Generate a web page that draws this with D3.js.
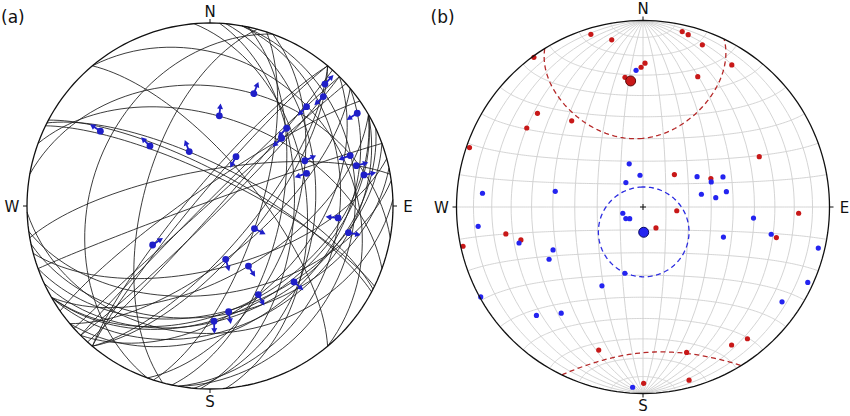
<!DOCTYPE html>
<html>
<head>
<meta charset="utf-8">
<script src="https://cdn.jsdelivr.net/npm/d3@7"></script>
<style>
  body { margin: 0; background: #fff; }
  svg { display: block; }
  text { font-family: "DejaVu Sans", sans-serif; fill: #111; }
</style>
</head>
<body>
<div id="chart"></div>
<script>
// ---- (a) fault planes: strike (right-hand rule) / dip ----
const planeStrikes = [40, 45, 225, 42, 228, 50, 280, 290, 296, 298, 297, 220, 20, 355, 10, 260, 60, 10, 60, 40,
                      220, 50, 60, 70, 45, 60, 65, 320, 320, 75, 82, 78, 88, 200, 195, 5, 12, 3, 18, 235, 250];
const planeDips    = [71, 86, 88, 87, 89, 35, 35, 50, 77, 75, 72, 84, 52, 46, 22, 74, 41, 30, 34, 68,
                      81, 67, 58, 42, 45, 43, 39, 25, 70, 62, 50, 40, 31, 35, 60, 42, 58, 52, 68, 82, 88];

// ---- (a) striae: trend / plunge, sense of arrow (1 = outward, -1 = inward) ----
const striaTrends  = [43.3, 46.0, 44.2, 44.6, 46.6, 57.8, 21.3, 5.9, 304.3, 315, 339.1, 27.8, 64.5, 71.3,
                      70.2, 74.6, 78.6, 95.3, 100.9, 116.9, 235.8, 163.6, 147.4, 132.1, 151.4, 170.0, 178.0];
const striaPlunges = [9.3, 15.0, 25.3, 40.1, 45.2, 5.5, 34.4, 49.0, 28.3, 51.7, 64.0, 65.1, 42.1, 43.6,
                      19.7, 18.2, 15.3, 30.4, 24.0, 67.8, 58.9, 65.2, 58.0, 38.1, 44.1, 41.0, 37.1];
const striaSense   = [1, -1, -1, -1, -1, -1, 1, 1, 1, 1, 1, -1, 1, -1, -1, 1, 1, -1, 1, 1, -1, 1, 1, 1, 1, 1, 1];

// ---- (b) red set: trend / plunge ----
const redTrends  = [343.2, 349.4, 12.6, 14.7, 20.1, 323.9, 32.0, 0.8, 359.2, 352.1, 22.8, 311.6, 304.2, 320.4,
                    288.9, 66.6, 44.1, 67.3, 96.3, 92.3, 258.9, 254.9, 257.7, 148.2, 102.9, 197.2, 163.3,
                    147.3, 141.6, 165.1, 179.8];
const redPlunges = [3.7, 9.7, 4.1, 5.0, 8.2, 0.8, 11.1, 23.9, 26.0, 30.5, 25.2, 25.3, 25.6, 39.8,
                    1.9, 32.6, 70.3, 57.6, 75.2, 17.6, 26.0, 32.7, 1.4, 79.3, 27.5, 20.8, 19.7,
                    13.1, 10.8, 4.4, 6.1];
// ---- (b) blue set: trend / plunge ----
const blueTrends  = [357.1, 342.3, 354.6, 325.0, 60.7, 69.4, 69.8, 274.9, 280.1, 77.7, 82.7, 79.6, 252.8,
                     228.7, 236, 263.3, 253.8, 244.5, 240.9, 195.3, 207.5, 241.0, 224.5, 217.6, 95.7,
                     110.5, 102.0, 103.2, 114.6, 124.3, 183.3];
const bluePlunges = [27.5, 70.2, 76.1, 77.0, 62.8, 52.2, 58.0, 14.7, 50.5, 63.8, 57.7, 52.5, 80.8,
                     82.3, 81, 12.0, 31.4, 45.6, 41.9, 59.8, 50.6, 0.6, 19.6, 28.9, 40.2,
                     52.0, 30.4, 3.9, 3.2, 10.7, 3.6];
// mean directions [trend, plunge]
const redMean  = [354.4, 32.6];
const blueMean = [178.4, 79.0];
// confidence cones [trend, plunge, semi-axis in dip plane, semi-axis across]
const redCone  = [357, 18.4, 41.5, 32];
const blueCone = [178.4, 79.0, 19.7, 19.7];

const W = 850, H = 416;
const rad = Math.PI / 180;
const svg = d3.select('#chart').append('svg').attr('width', W).attr('height', H);

// direction (east, north, down) -> lon/lat on an equal-area net centred on the vertical
function toLonLat(e, n, d) {
  return [Math.atan2(e, d) / rad, Math.asin(Math.max(-1, Math.min(1, n))) / rad];
}
function lineLL(trend, plunge) {
  const t = trend * rad, p = plunge * rad;
  return toLonLat(Math.cos(p) * Math.sin(t), Math.cos(p) * Math.cos(t), Math.sin(p));
}
function planeLL(strike, dip) {
  const s = strike * rad, dp = dip * rad;
  return d3.range(0, 180.01, 3).map(r => {
    r *= rad;
    const e = Math.cos(r) * Math.sin(s) + Math.sin(r) * Math.cos(dp) * Math.cos(s);
    const n = Math.cos(r) * Math.cos(s) - Math.sin(r) * Math.cos(dp) * Math.sin(s);
    return toLonLat(e, n, Math.sin(r) * Math.sin(dp));
  });
}
// cone outline and its antipode (the part above the horizontal shows on the other side)
function coneLL(cone) {
  const [tr, pl, a1, a2] = cone;
  const t = tr * rad, p = pl * rad;
  const C = [Math.cos(p) * Math.sin(t), Math.cos(p) * Math.cos(t), Math.sin(p)];
  const M = [-Math.sin(p) * Math.sin(t), -Math.sin(p) * Math.cos(t), Math.cos(p)];
  const N = [Math.cos(t), -Math.sin(t), 0];
  const pts = d3.range(0, 360.01, 2).map(th => {
    th *= rad;
    const rho = a1 * a2 / Math.hypot(a2 * Math.cos(th), a1 * Math.sin(th)) * rad;
    return [0, 1, 2].map(i => Math.cos(rho) * C[i] + Math.sin(rho) * (Math.cos(th) * M[i] + Math.sin(th) * N[i]));
  });
  return [pts.map(v => toLonLat(v[0], v[1], v[2])), pts.map(v => toLonLat(-v[0], -v[1], -v[2]))];
}

function makeNet(cx, cy, R) {
  return d3.geoAzimuthalEqualArea()
    .rotate([0, 0, 0])
    .clipAngle(90)
    .scale(R / Math.SQRT2)
    .translate([cx, cy])
    .precision(0.1);
}

function frame(g, proj, cx, cy, R, tag) {
  const path = d3.geoPath(proj);
  g.append('path').attr('d', path({ type: 'Sphere' }))
    .attr('fill', 'none').attr('stroke', '#111').attr('stroke-width', 1.3);
  const dirs = [['N', 0, -1], ['E', 1, 0], ['S', 0, 1], ['W', -1, 0]];
  dirs.forEach(([lab, dx, dy]) => {
    g.append('line')
      .attr('x1', cx + dx * R).attr('y1', cy + dy * R)
      .attr('x2', cx + dx * (R + 4)).attr('y2', cy + dy * (R + 4))
      .attr('stroke', '#111').attr('stroke-width', 1);
    g.append('text')
      .attr('x', cx + dx * (R + 15)).attr('y', cy + dy * (R + 12) + 5.5)
      .attr('text-anchor', 'middle').style('font-size', '15px').text(lab);
  });
  g.append('text').attr('x', cx - R - 26).attr('y', 23).style('font-size', '17px').text(tag);
}

// ---------------- (a) ----------------
const A = { cx: 210, cy: 206, R: 183 };
const projA = makeNet(A.cx, A.cy, A.R);
const pathA = d3.geoPath(projA);
const gA = svg.append('g');

gA.selectAll('.plane')
  .data(d3.zip(planeStrikes, planeDips))
  .enter().append('path')
  .attr('class', 'plane')
  .attr('d', d => pathA({ type: 'LineString', coordinates: planeLL(d[0], d[1]) }))
  .attr('fill', 'none').attr('stroke', '#1a1a1a').attr('stroke-width', 0.85);

const striae = d3.zip(striaTrends, striaPlunges, striaSense);

// arrows along the trend of each stria
gA.selectAll('.arrow')
  .data(striae)
  .enter().append('path')
  .attr('class', 'arrow')
  .attr('d', d => {
    const [x, y] = projA(lineLL(d[0], d[1]));
    const ux = d[2] * Math.sin(d[0] * rad), uy = -d[2] * Math.cos(d[0] * rad);
    const vx = -uy, vy = ux;
    const pt = (a, b) => [x + ux * a + vx * b, y + uy * a + vy * b];
    const pts = [pt(2, -0.9), pt(7, -0.9), pt(7, -3), pt(12.5, 0), pt(7, 3), pt(7, 0.9), pt(2, 0.9)];
    return 'M' + pts.map(p => p.join(',')).join('L') + 'Z';
  })
  .attr('fill', '#1f1fc8');

gA.selectAll('.stria')
  .data(striae)
  .enter().append('circle')
  .attr('class', 'stria')
  .attr('cx', d => projA(lineLL(d[0], d[1]))[0])
  .attr('cy', d => projA(lineLL(d[0], d[1]))[1])
  .attr('r', 3.4)
  .attr('fill', '#1f1fc8');

frame(gA, projA, A.cx, A.cy, A.R, '(a)');

// ---------------- (b) ----------------
const B = { cx: 643, cy: 207, R: 186.5 };
const projB = makeNet(B.cx, B.cy, B.R);
const pathB = d3.geoPath(projB);
const gB = svg.append('g');

const meridians = d3.range(-80, 81, 10).map(lon => d3.range(-90, 90.1, 5).map(lat => [lon, lat]));
const parallels = d3.range(-80, 81, 10).map(lat => d3.range(-90, 90.1, 1).map(lon => [lon, lat]));

gB.selectAll('.grid')
  .data(meridians.concat(parallels))
  .enter().append('path')
  .attr('class', 'grid')
  .attr('d', c => pathB({ type: 'LineString', coordinates: c }))
  .attr('fill', 'none').attr('stroke', '#cfcfcf').attr('stroke-width', 0.9);

// centre cross
const c0 = projB([0, 0]);
gB.append('path')
  .attr('d', `M${c0[0] - 3},${c0[1]}H${c0[0] + 3}M${c0[0]},${c0[1] - 3}V${c0[1] + 3}`)
  .attr('stroke', '#111').attr('stroke-width', 1);

[[redCone, '#b52828'], [blueCone, '#2a2ae0']].forEach(([cone, col]) => {
  gB.selectAll(null)
    .data(coneLL(cone))
    .enter().append('path')
    .attr('d', c => pathB({ type: 'LineString', coordinates: c }))
    .attr('fill', 'none').attr('stroke', col).attr('stroke-width', 1.3)
    .attr('stroke-dasharray', '5,3.5');
});

gB.selectAll('.red')
  .data(d3.zip(redTrends, redPlunges))
  .enter().append('circle')
  .attr('class', 'red')
  .attr('cx', d => projB(lineLL(d[0], d[1]))[0])
  .attr('cy', d => projB(lineLL(d[0], d[1]))[1])
  .attr('r', 2.6).attr('fill', '#c81818');

gB.selectAll('.blue')
  .data(d3.zip(blueTrends, bluePlunges))
  .enter().append('circle')
  .attr('class', 'blue')
  .attr('cx', d => projB(lineLL(d[0], d[1]))[0])
  .attr('cy', d => projB(lineLL(d[0], d[1]))[1])
  .attr('r', 2.6).attr('fill', '#2424f0');

[[redMean, '#c81818', '#5a0a0a'], [blueMean, '#2424f0', '#0a0a60']].forEach(([m, fill, edge]) => {
  const p = projB(lineLL(m[0], m[1]));
  gB.append('circle').attr('cx', p[0]).attr('cy', p[1]).attr('r', 5)
    .attr('fill', fill).attr('stroke', edge).attr('stroke-width', 1);
});

frame(gB, projB, B.cx, B.cy, B.R, '(b)');
</script>
</body>
</html>
